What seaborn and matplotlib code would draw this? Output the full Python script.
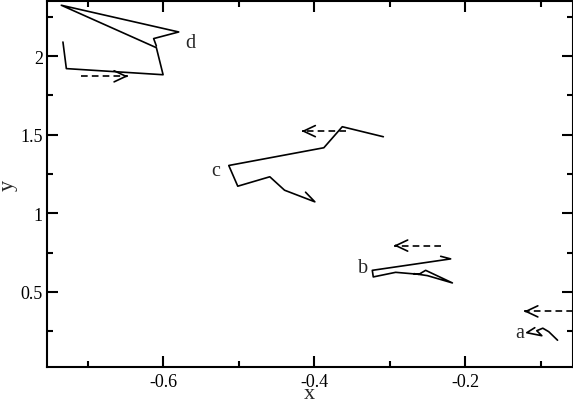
import seaborn as sns
import matplotlib.pyplot as plt

# trajectories a-d
a_x = [-0.0781, -0.0897, -0.0976, -0.1056, -0.0989, -0.1188, -0.1082]
a_y = [0.1924, 0.2465, 0.2688, 0.2529, 0.2210, 0.2401, 0.2720]

b_x = [-0.2327, -0.2195, -0.3232, -0.3219, -0.2923, -0.2615, -0.2526, -0.2172, -0.2503, -0.2681]
b_y = [0.7261, 0.7096, 0.6369, 0.5949, 0.6242, 0.6115, 0.6369, 0.5567, 0.6032, 0.6159]

c_x = [-0.3086, -0.3629, -0.3873, -0.5131, -0.5012, -0.4588, -0.4393, -0.3992, -0.4115]
c_y = [1.4866, 1.5503, 1.4166, 1.3038, 1.1720, 1.2320, 1.1465, 1.0726, 1.1338]

d_x = [-0.7325, -0.7280, -0.6000, -0.6089, -0.7347, -0.5793, -0.6125, -0.6089]
d_y = [2.089, 1.920, 1.881, 2.053, 2.323, 2.153, 2.111, 2.064]

# direction arrows: (tail x, tip x, y)
arrows = {
    'a': (-0.0583, -0.1224, 0.3758),
    'b': (-0.2327, -0.2946, 0.7943),
    'c': (-0.3585, -0.4168, 1.5223),
    'd': (-0.7080, -0.6466, 1.871),
}
labels = {'a': (-0.128, 0.240), 'b': (-0.336, 0.654),
          'c': (-0.5307, 1.272), 'd': (-0.5638, 2.087)}

sns.set_style("ticks")
plt.rcParams['font.family'] = ['Liberation Serif', 'DejaVu Serif']
plt.rcParams['axes.unicode_minus'] = False

fig = plt.figure(figsize=(5.73, 4.02), dpi=100)
ax = fig.add_axes([47/573, 1-368/402, (572.5-47)/573, (368-2)/402])

for xs, ys in [(a_x, a_y), (b_x, b_y), (c_x, c_y), (d_x, d_y)]:
    sns.lineplot(x=xs, y=ys, sort=False, estimator=None, color='black', lw=1.2, ax=ax)

for k, (x0, x1, y) in arrows.items():
    sns.lineplot(x=[x0, x1], y=[y, y], sort=False, estimator=None, color='black',
                 lw=1.2, linestyle=(0, (4, 2.5)), ax=ax)
    step = 0.004 if x1 > x0 else -0.004
    ax.annotate('', xy=(x1, y), xytext=(x1 - step, y),
                arrowprops=dict(arrowstyle='->, head_length=0.85, head_width=0.4',
                                mutation_scale=10, lw=1.2, color='black',
                                shrinkA=0, shrinkB=0))

for k, (x, y) in labels.items():
    ax.text(x, y, k, fontsize=14.5, ha='center', va='center')

ax.set_xlim(-0.7536, -0.0583)
ax.set_ylim(0.022, 2.35)
ax.set_xticks([-0.6, -0.4, -0.2])
ax.set_xticks([-0.7, -0.5, -0.3, -0.1], minor=True)
ax.set_yticks([0.5, 1, 1.5, 2])
ax.set_yticklabels(['0.5', '1', '1.5', '2'])
ax.set_yticks([0.25, 0.75, 1.25, 1.75, 2.25], minor=True)
ax.tick_params(which='both', direction='in', top=True, right=True, width=1.5,
               labelsize=13, colors='black')
ax.tick_params(which='major', length=8)
ax.tick_params(which='minor', length=4)
ax.tick_params(axis='x', pad=4)
ax.tick_params(axis='y', pad=3)
for s in ax.spines.values():
    s.set_linewidth(1.5)
    s.set_color('black')

ax.set_xlabel('x', fontsize=16, va='center')
ax.set_ylabel('y', fontsize=16, va='center')
ax.xaxis.set_label_coords(0.5, -0.072)
ax.yaxis.set_label_coords(-0.073, 0.5)

fig.savefig('out.png', dpi=100)
